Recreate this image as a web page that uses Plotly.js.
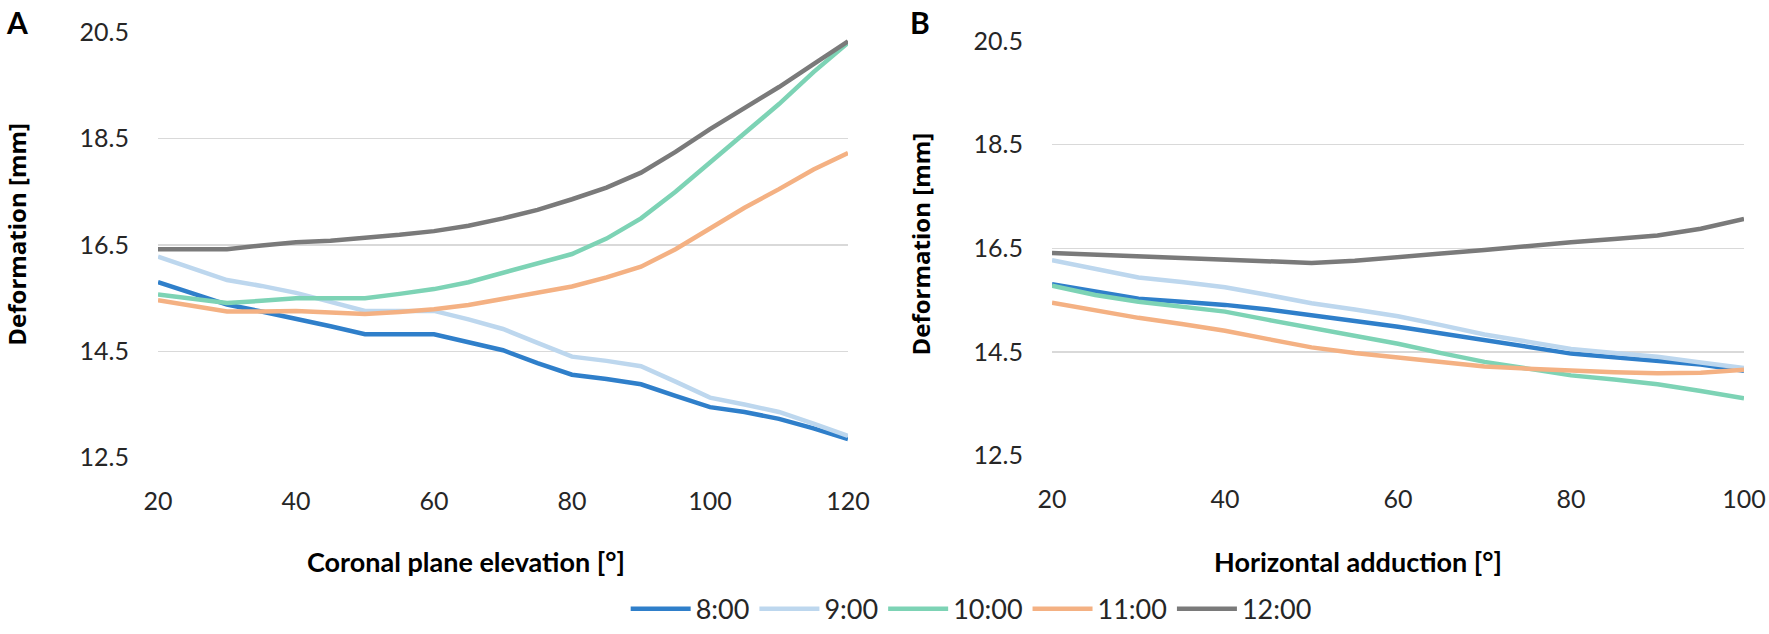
<!DOCTYPE html>
<html>
<head>
<meta charset="utf-8">
<script src="https://cdn.plot.ly/plotly-3.0.1.min.js"></script>
<style>html,body{margin:0;padding:0;background:#fff;}#chart{width:1769px;height:634px;}</style>
</head>
<body>
<div id="chart"></div>
<script>
// Panel A: coronal plane elevation [°]
const elevationA = [20,25,30,35,40,45,50,55,60,65,70,75,80,85,90,95,100,105,110,115,120];
const a0800 = [15.80,15.58,15.38,15.25,15.12,14.97,14.82,14.82,14.82,14.67,14.52,14.28,14.06,13.98,13.88,13.66,13.45,13.36,13.23,13.05,12.85];
const a0900 = [16.28,16.05,15.84,15.73,15.60,15.43,15.26,15.26,15.26,15.10,14.92,14.66,14.40,14.32,14.22,13.93,13.63,13.50,13.36,13.14,12.91];
const a1000 = [15.57,15.48,15.41,15.45,15.50,15.50,15.50,15.58,15.67,15.80,15.97,16.14,16.33,16.62,17.00,17.50,18.05,18.60,19.15,19.75,20.30];
const a1100 = [15.46,15.35,15.25,15.25,15.26,15.23,15.20,15.24,15.29,15.37,15.48,15.60,15.72,15.89,16.09,16.42,16.80,17.20,17.55,17.92,18.23];
const a1200 = [16.42,16.42,16.42,16.49,16.55,16.58,16.63,16.69,16.76,16.86,17.00,17.16,17.36,17.58,17.86,18.25,18.68,19.08,19.47,19.90,20.33];

// Panel B: horizontal adduction [°]
const adductionB = [20,25,30,35,40,45,50,55,60,65,70,75,80,85,90,95,100];
const b0800 = [15.81,15.66,15.53,15.47,15.41,15.32,15.22,15.10,14.99,14.86,14.72,14.60,14.47,14.40,14.34,14.26,14.14];
const b0900 = [16.27,16.10,15.94,15.85,15.75,15.60,15.44,15.32,15.19,15.02,14.84,14.70,14.56,14.48,14.41,14.30,14.19];
const b1000 = [15.78,15.60,15.47,15.38,15.28,15.12,14.97,14.82,14.66,14.48,14.31,14.18,14.05,13.97,13.88,13.75,13.61];
const b1100 = [15.45,15.30,15.16,15.04,14.91,14.75,14.59,14.48,14.39,14.30,14.22,14.18,14.14,14.11,14.09,14.10,14.16];
const b1200 = [16.41,16.38,16.34,16.31,16.28,16.25,16.22,16.26,16.32,16.40,16.47,16.55,16.62,16.68,16.75,16.88,17.07];

const seriesNames = ['8:00','9:00','10:00','11:00','12:00'];
const seriesColors = ['#2F7FCA','#BDD7EE','#7DD3B5','#F4B183','#7A7A7A'];
const yTicks = [12.5,14.5,16.5,18.5,20.5];
const xTicksA = [20,40,60,80,100,120];
const xTicksB = [20,40,60,80,100];

const FONT = 'Lato, "Open Sans", sans-serif';
const seriesA = [a0800,a0900,a1000,a1100,a1200];
const seriesB = [b0800,b0900,b1000,b1100,b1200];

const traces = [];
seriesA.forEach((ys,i)=>{
  traces.push({x:elevationA,y:ys,type:'scatter',mode:'lines',name:seriesNames[i],
    line:{color:seriesColors[i],width:4.5,shape:'linear'},xaxis:'x',yaxis:'y',legendgroup:seriesNames[i],showlegend:true});
});
seriesB.forEach((ys,i)=>{
  traces.push({x:adductionB,y:ys,type:'scatter',mode:'lines',name:seriesNames[i],
    line:{color:seriesColors[i],width:4.5,shape:'linear'},xaxis:'x2',yaxis:'y2',legendgroup:seriesNames[i],showlegend:false});
});

const W=1769,H=634;
const axisCommon = {showline:false,zeroline:false,ticks:'',automargin:false,ticklabeloverflow:'allow',
  tickfont:{family:FONT,size:25,color:'#262626'}};
const layout = {
  width:W,height:H,margin:{l:0,r:0,t:0,b:0},
  paper_bgcolor:'#ffffff',plot_bgcolor:'#ffffff',
  font:{family:FONT,color:'#262626'},
  xaxis:Object.assign({},axisCommon,{domain:[158/W,848/W],range:[20,120],tickvals:xTicksA,
    showgrid:false,ticklabelstandoff:26,anchor:'y'}),
  yaxis:Object.assign({},axisCommon,{domain:[(H-468)/H,(H-33)/H],range:[12.5,20.5],tickvals:yTicks,
    tickformat:'.1f',showgrid:true,gridcolor:'#D9D9D9',gridwidth:1.5,ticklabelstandoff:28,anchor:'x'}),
  xaxis2:Object.assign({},axisCommon,{domain:[1052/W,1744/W],range:[20,100],tickvals:xTicksB,
    showgrid:false,ticklabelstandoff:26,anchor:'y2'}),
  yaxis2:Object.assign({},axisCommon,{domain:[(H-466)/H,(H-42)/H],range:[12.5,20.5],tickvals:yTicks,
    tickformat:'.1f',showgrid:true,gridcolor:'#D9D9D9',gridwidth:1.5,ticklabelstandoff:28,anchor:'x2'}),
  showlegend:true,
  legend:{orientation:'h',x:0.549,xanchor:'center',y:(H-623)/H,yanchor:'middle',
    font:{family:FONT,size:27,color:'#262626'},itemwidth:60,traceorder:'normal',bgcolor:'rgba(0,0,0,0)'},
  annotations:[
    {text:'<b>A</b>',xref:'paper',yref:'paper',x:17/W,y:(H-22)/H,xanchor:'center',yanchor:'middle',showarrow:false,font:{family:FONT,size:30,color:'#000'}},
    {text:'<b>B</b>',xref:'paper',yref:'paper',x:920/W,y:(H-22)/H,xanchor:'center',yanchor:'middle',showarrow:false,font:{family:FONT,size:30,color:'#000'}},
    {text:'<b>Deformation [mm]</b>',xref:'paper',yref:'paper',x:17/W,y:(H-240)/H,xanchor:'center',yanchor:'middle',textangle:-90,showarrow:false,font:{family:'"Open Sans", sans-serif',size:24,color:'#000'}},
    {text:'<b>Deformation [mm]</b>',xref:'paper',yref:'paper',x:920/W,y:(H-250)/H,xanchor:'center',yanchor:'middle',textangle:-90,showarrow:false,font:{family:'"Open Sans", sans-serif',size:24,color:'#000'}},
    {text:'<b>Coronal plane elevation [°]</b>',xref:'paper',yref:'paper',x:466/W,y:(H-574)/H,xanchor:'center',yanchor:'middle',showarrow:false,font:{family:FONT,size:27,color:'#000'}},
    {text:'<b>Horizontal adduction [°]</b>',xref:'paper',yref:'paper',x:1358/W,y:(H-574)/H,xanchor:'center',yanchor:'middle',showarrow:false,font:{family:FONT,size:27,color:'#000'}}
  ]
};
Plotly.newPlot('chart',traces,layout,{displayModeBar:false,staticPlot:true});
</script>
</body>
</html>
